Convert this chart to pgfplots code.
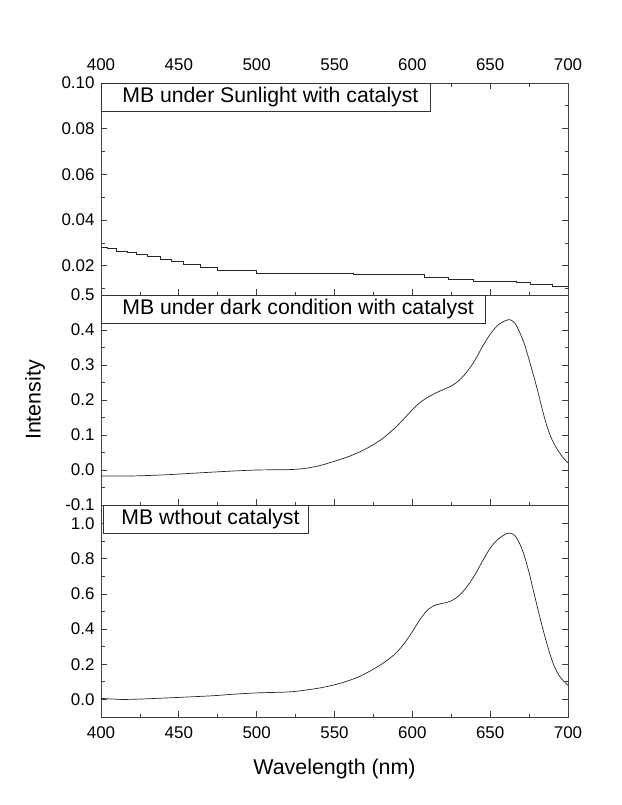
\documentclass[border=0pt]{standalone}
\usepackage{fontspec}
\setmainfont{Liberation Sans}
\usepackage{pgfplots}
\pgfplotsset{compat=1.18}
\usepackage{pgfplotstable}

% MB under sunlight with catalyst (stepped trace)
\pgfplotstableread{
wl val
400 0.0281
404 0.0276
410 0.0265
417 0.0258
423 0.0250
430 0.0240
438 0.0228
445 0.0218
453 0.0208
464 0.0195
475 0.0180
500 0.0168
562 0.0163
608 0.0150
623 0.0140
639 0.0132
667 0.0126
676 0.0120
690 0.0112
700 0.0108
}\sunlight

% MB under dark condition with catalyst
\pgfplotstableread{
wl val
400 -0.017
420 -0.017
440 -0.014
460 -0.009
480 -0.004
500 0.000
520 0.001
530 0.004
540 0.012
550 0.025
560 0.040
570 0.060
580 0.087
590 0.125
600 0.172
605 0.193
610 0.208
615 0.220
620 0.230
625 0.240
630 0.256
635 0.280
640 0.312
645 0.352
650 0.388
655 0.414
660 0.427
663 0.429
666 0.419
669 0.393
672 0.360
675 0.315
678 0.268
681 0.218
684 0.164
687 0.118
690 0.084
693 0.060
696 0.040
700 0.020
}\dark

% MB without catalyst
\pgfplotstableread{
wl val
400 0.006
413 0.000
425 0.002
449 0.011
472 0.021
484 0.029
500 0.037
519 0.042
529 0.050
543 0.069
555 0.095
566 0.130
575 0.172
580 0.199
585 0.230
590 0.268
595 0.320
600 0.385
605 0.455
610 0.510
615 0.537
620 0.547
625 0.560
630 0.590
635 0.640
640 0.705
645 0.785
650 0.860
655 0.910
660 0.940
663 0.945
666 0.930
669 0.885
672 0.815
675 0.720
678 0.610
681 0.500
684 0.396
687 0.300
690 0.215
693 0.155
696 0.115
700 0.080
}\nocat

\pgfplotsset{
  panel/.style={
    scale only axis, width=467bp,
    xmin=400, xmax=700,
    xtick={400,450,500,550,600,650,700}, minor x tick num=1,
    tick align=inside, major tick length=6bp, minor tick length=3.5bp,
    ytick pos=both, yticklabel pos=left,
    scaled y ticks=false,
    axis line style={black!75, line width=0.7bp},
    every tick/.append style={black!75, line width=0.7bp},
    tick label style={font=\fontsize{17}{20}\selectfont},
    yticklabel style={xshift=-3bp},
    /pgf/number format/assume math mode=true,
    clip=false,
  },
  curve/.style={black!85, line width=0.7bp, no markers},
}
\tikzset{
  tag/.style={draw=black!80, line width=0.7bp, fill=white, anchor=north west,
    inner xsep=0pt, minimum height=27.5bp, font=\fontsize{21.3}{24}\selectfont},
}

\begin{document}
\begin{tikzpicture}
\path[use as bounding box] (0,0) rectangle (622bp,-805bp);

\begin{axis}[panel, at={(101bp,-83bp)}, anchor=north west, height=212bp,
    ymin=0.0072, ymax=0.10,
    ytick={0.02,0.04,0.06,0.08,0.10},
    minor ytick={0.01,0.03,0.05,0.07,0.09},
    yticklabel style={/pgf/number format/.cd, fixed, fixed zerofill, precision=2},
    xtick pos=both, xticklabel pos=upper,
    xticklabel style={yshift=9bp}]
  \addplot[curve, const plot] table[x=wl, y=val] {\sunlight};
  \node[tag] at (rel axis cs:0,1) {\hspace*{21bp}MB under Sunlight with catalyst\hspace*{12bp}};
\end{axis}

\begin{axis}[panel, at={(101bp,-295bp)}, anchor=north west, height=210bp,
    ymin=-0.1, ymax=0.5,
    ytick={-0.1,0,0.1,0.2,0.3,0.4,0.5},
    minor ytick={-0.05,0.05,0.15,0.25,0.35,0.45},
    yticklabel style={/pgf/number format/.cd, fixed, fixed zerofill, precision=1},
    xtick pos=lower, xticklabels={},
    ylabel={Intensity},
    ylabel style={at={([xshift=-66bp]axis description cs:0,0.5)}, anchor=center,
      font=\fontsize{21.5}{24}\selectfont}]
  \addplot[curve, smooth] table[x=wl, y=val] {\dark};
  \node[tag] at (rel axis cs:0,1) {\hspace*{21bp}MB under dark condition with catalyst\hspace*{12bp}};
\end{axis}

\begin{axis}[panel, at={(101bp,-505bp)}, anchor=north west, height=212bp,
    ymin=-0.1, ymax=1.105,
    ytick={0,0.2,0.4,0.6,0.8,1.0},
    minor ytick={0.1,0.3,0.5,0.7,0.9},
    yticklabel style={/pgf/number format/.cd, fixed, fixed zerofill, precision=1},
    xtick pos=lower,
    xticklabel style={yshift=-6bp},
    xlabel={Wavelength (nm)},
    xlabel style={at={([yshift=-52bp]axis description cs:0.5,0)}, anchor=center,
      font=\fontsize{21.5}{24}\selectfont}]
  \addplot[curve, smooth] table[x=wl, y=val] {\nocat};
  \node[tag, xshift=2bp] at (rel axis cs:0,1) {\hspace*{18bp}MB wthout catalyst\hspace*{9bp}};
\end{axis}
\end{tikzpicture}
\end{document}
